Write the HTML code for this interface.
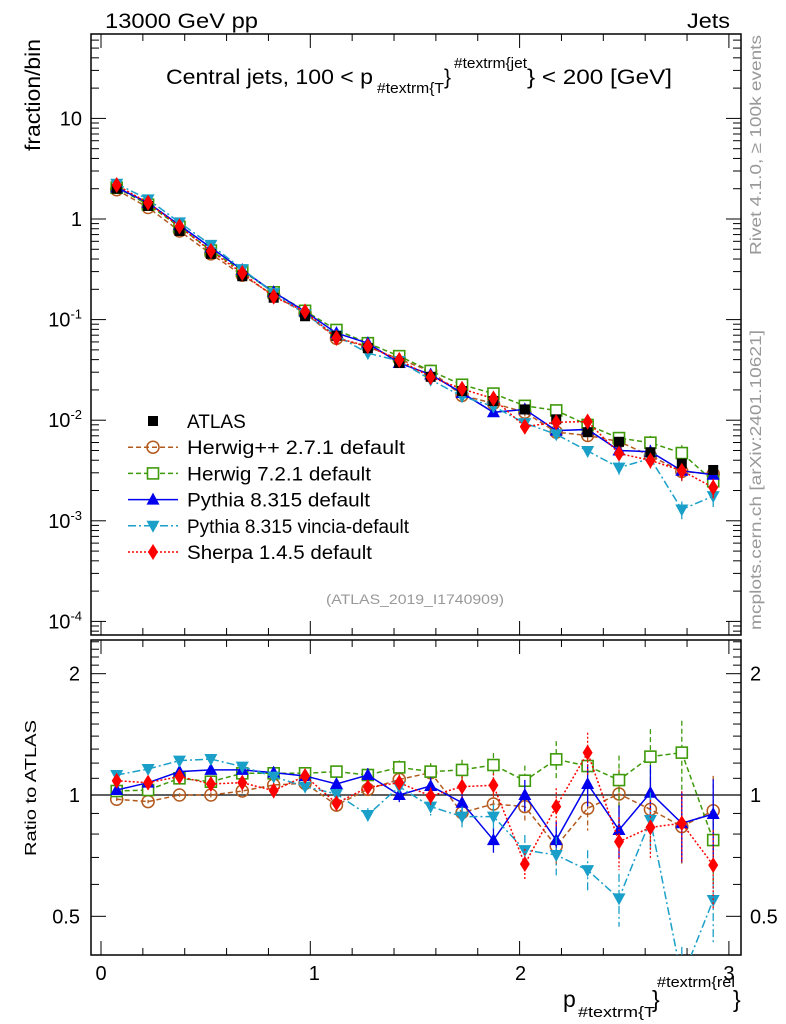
<!DOCTYPE html>
<html><head><meta charset="utf-8"><style>
body{margin:0;background:#fff;}
svg{display:block;font-family:"Liberation Sans",Arial,sans-serif;}
</style></head><body>
<svg id="c" width="786" height="1024" viewBox="0 0 786 1024" xmlns="http://www.w3.org/2000/svg">
<rect x="0" y="0" width="786" height="1024" fill="#fff"/>
<g id="main"></g>
<g id="ratio"></g>
<text x="105" y="28" font-size="21" textLength="153" lengthAdjust="spacingAndGlyphs">13000 GeV pp</text>
<text x="687" y="28" font-size="21" textLength="43" lengthAdjust="spacingAndGlyphs">Jets</text>
<text x="166" y="84" font-size="21"><tspan textLength="207" lengthAdjust="spacingAndGlyphs">Central jets, 100 &lt; p</tspan><tspan x="377" font-size="15" dy="9" textLength="67" lengthAdjust="spacingAndGlyphs">#textrm{T</tspan><tspan x="444" dy="-9">}</tspan><tspan x="454" font-size="15" dy="-16" textLength="73" lengthAdjust="spacingAndGlyphs">#textrm{jet</tspan><tspan x="527" dy="16" textLength="145" lengthAdjust="spacingAndGlyphs">} &lt; 200 [GeV]</tspan></text>
<text transform="translate(40,151) rotate(-90)" font-size="21" textLength="112" lengthAdjust="spacingAndGlyphs">fraction/bin</text>
<text transform="translate(36,856) rotate(-90)" font-size="16" textLength="136" lengthAdjust="spacingAndGlyphs">Ratio to ATLAS</text>
<text transform="translate(761,255) rotate(-90)" font-size="16" fill="#999" textLength="220" lengthAdjust="spacingAndGlyphs">Rivet 4.1.0, ≥ 100k events</text>
<text transform="translate(761,630) rotate(-90)" font-size="16" fill="#999" textLength="300" lengthAdjust="spacingAndGlyphs">mcplots.cern.ch [arXiv:2401.10621]</text>
<text x="326" y="604" font-size="14" fill="#999" textLength="178" lengthAdjust="spacingAndGlyphs">(ATLAS_2019_I1740909)</text>
<text x="563" y="1007" font-size="23">p<tspan x="578" font-size="15" dy="10" textLength="77" lengthAdjust="spacingAndGlyphs">#textrm{T</tspan><tspan x="652" dy="-10">}</tspan><tspan x="657" font-size="15" dy="-20" textLength="78" lengthAdjust="spacingAndGlyphs">#textrm{rel</tspan><tspan x="733" dy="20">}</tspan></text>
</svg>
<script>
const xCenters=[0.075,0.225,0.375,0.525,0.675,0.825,0.975,1.125,1.275,1.425,1.575,1.725,1.875,2.025,2.175,2.325,2.475,2.625,2.775,2.925];
const atlas=[2.0,1.35,0.76,0.45,0.27,0.165,0.108,0.069,0.052,0.037,0.027,0.0195,0.0155,0.0128,0.0102,0.0076,0.0061,0.0048,0.0037,0.0032];
const rHerwigpp=[0.976,0.963,1,1,1.023,1.059,1.069,0.944,1.033,1.093,1.136,0.904,0.95,0.936,0.747,0.927,1.006,0.921,0.835,0.914];
const rHerwig7=[1.023,1.029,1.100,1.079,1.132,1.132,1.132,1.143,1.121,1.171,1.143,1.154,1.187,1.085,1.226,1.180,1.089,1.245,1.274,0.773];
const rPythia=[1.029,1.073,1.143,1.154,1.154,1.136,1.115,1.065,1.121,1,1.053,0.957,0.773,1,0.773,1.065,0.819,1.013,0.851,0.897];
const rVincia=[1.121,1.160,1.217,1.228,1.176,1.111,1.049,1.006,0.892,1.049,0.936,0.884,0.884,0.730,0.710,0.651,0.554,0.867,0.35,0.549];
const rSherpa=[1.085,1.073,1.111,1.065,1.073,1.025,1.115,0.954,1.045,1.073,0.994,1.049,1.057,0.674,0.936,1.274,0.766,0.831,0.851,0.67];
const relErr=[0.01,0.01,0.01,0.015,0.015,0.02,0.02,0.03,0.04,0.04,0.05,0.06,0.07,0.09,0.11,0.12,0.15,0.17,0.2,0.22];
const mainTicks=["10^{-4}","10^{-3}","10^{-2}","10^{-1}","1","10"];
const ratioTickLabels=["0.5","1","2"];
const xTickLabels=["0","1","2","3"];

const NS="http://www.w3.org/2000/svg";
const L=91,R=741,MT=34,MB=635,RT=640,RB=955;
const xs=v=>101+v*209.3;
const ym=v=>219-100.6*Math.log10(v);
const yr=v=>795-403*Math.log10(v);
function el(p,t,a){const e=document.createElementNS(NS,t);for(const k in a)e.setAttribute(k,a[k]);p.appendChild(e);return e;}
const main=document.getElementById('main'),ratio=document.getElementById('ratio');

function frame(g,top,bot,nm){
  const f=el(g,'rect',{x:L,y:top,width:R-L,height:bot-top,fill:'none',stroke:'#000','stroke-width':1.5});
  
  
  for(let v=0;v<=3.0001;v+=0.2){const X=xs(v);const maj=Math.abs(v-Math.round(v))<1e-6;const len=maj?14:7;
    el(g,'line',{x1:X,x2:X,y1:bot,y2:bot-len,stroke:'#000'});el(g,'line',{x1:X,x2:X,y1:top,y2:top+len,stroke:'#000'});}
}
frame(main,MT,MB,'main-frame');frame(ratio,RT,RB,'ratio-frame');
for(let d=-5;d<=1;d++){for(let m=1;m<10;m++){const v=m*Math.pow(10,d);const Y=ym(v);if(Y<MT||Y>MB)continue;const len=m==1?15:8;
  el(main,'line',{x1:L,x2:L+len,y1:Y,y2:Y,stroke:'#000'});el(main,'line',{x1:R,x2:R-len,y1:Y,y2:Y,stroke:'#000'});}}
mainTicks.forEach((t,i)=>{const Y=ym(Math.pow(10,i-4));const tx=el(main,'text',{x:82,y:Y+7,'font-size':20,'text-anchor':'end'});
  
  const m=t.match(/\^\{(.*)\}/);if(m){tx.textContent='10';const s=el(tx,'tspan',{'font-size':13,dy:-8});s.textContent=m[1];}else tx.textContent=t;});
for(let v=0.4;v<2.45;v+=0.1){const Y=yr(v);if(Y<RT||Y>RB)continue;const maj=[0.5,1,2].some(q=>Math.abs(q-v)<1e-6);const len=maj?15:8;
  el(ratio,'line',{x1:L,x2:L+len,y1:Y,y2:Y,stroke:'#000'});el(ratio,'line',{x1:R,x2:R-len,y1:Y,y2:Y,stroke:'#000'});}
ratioTickLabels.forEach(t=>{const Y=yr(parseFloat(t))+7;
  const a=el(ratio,'text',{x:80,y:Y,'font-size':20,'text-anchor':'end'});a.textContent=t;
  
  const b=el(ratio,'text',{x:750,y:Y,'font-size':20});b.textContent=t;
  });
xTickLabels.forEach((t,i)=>{const a=el(ratio,'text',{x:xs(+t)+[0,4,1,0][i],y:980,'font-size':20,'text-anchor':'middle'});a.textContent=t;
  });
el(ratio,'line',{x1:L,x2:R,y1:yr(1),y2:yr(1),stroke:'#000','stroke-width':1.3});

function marker(g,type,x,y,c){
  if(type=='sq')return el(g,'rect',{x:x-5,y:y-5,width:10,height:10,fill:'#000'});
  if(type=='osq')return el(g,'rect',{x:x-5.5,y:y-5.5,width:11,height:11,fill:'#fff',stroke:c,'stroke-width':1.6});
  if(type=='oc')return el(g,'circle',{cx:x,cy:y,r:6,fill:'none',stroke:c,'stroke-width':1.5});
  if(type=='tu')return el(g,'polygon',{points:`${x},${y-7} ${x-6.5},${y+5} ${x+6.5},${y+5}`,fill:c});
  if(type=='td')return el(g,'polygon',{points:`${x},${y+7} ${x-6.5},${y-5} ${x+6.5},${y-5}`,fill:c});
  if(type=='dm')return el(g,'polygon',{points:`${x},${y-8} ${x-5},${y} ${x},${y+8} ${x+5},${y}`,fill:c});
}
const series=[
 {name:'herwigpp',label:'Herwig++ 2.7.1 default',r:rHerwigpp,c:'#b35a1f',m:'oc',dash:'5,3'},
 {name:'herwig7',label:'Herwig 7.2.1 default',r:rHerwig7,c:'#3f9a0a',m:'osq',dash:'5,3'},
 {name:'pythia',label:'Pythia 8.315 default',r:rPythia,c:'#0000ee',m:'tu',dash:''},
 {name:'vincia',label:'Pythia 8.315 vincia-default',r:rVincia,c:'#1aa0c8',m:'td',dash:'8,3,2,3'},
 {name:'sherpa',label:'Sherpa 1.4.5 default',r:rSherpa,c:'#ff0000',m:'dm',dash:'2,2'}];
function clipRect(g,id,top,bot){const cp=el(g,'clipPath',{id:id});el(cp,'rect',{x:L,y:top,width:R-L,height:bot-top});}
clipRect(main,'cm',MT,MB);clipRect(ratio,'cr',RT,RB);
const gm=el(main,'g',{'clip-path':'url(#cm)'}),gr=el(ratio,'g',{'clip-path':'url(#cr)'});
series.forEach(s=>{
  const vals=atlas.map((a,i)=>a*s.r[i]);
  const pm=vals.map((v,i)=>`${xs(xCenters[i])},${ym(v)}`).join(' ');
  const pl=el(gm,'polyline',{points:pm,fill:'none',stroke:s.c,'stroke-width':1.5,'stroke-dasharray':s.dash});
  
  const pr=s.r.map((v,i)=>`${xs(xCenters[i])},${yr(v)}`).join(' ');
  const rl=el(gr,'polyline',{points:pr,fill:'none',stroke:s.c,'stroke-width':1.5,'stroke-dasharray':s.dash});
  
  s.r.forEach((v,i)=>{const X=xs(xCenters[i]);const e=relErr[i]*v;
    el(gr,'line',{x1:X,x2:X,y1:yr(v+e),y2:yr(Math.max(v-e,0.05)),stroke:s.c,'stroke-width':1.3,'stroke-dasharray':s.dash});
    el(gm,'line',{x1:X,x2:X,y1:ym(vals[i]*(1+relErr[i])),y2:ym(vals[i]*(1-relErr[i])),stroke:s.c,'stroke-width':1.3});
    const a=marker(gm,s.m,X,ym(vals[i]),s.c);
    const b=marker(gr,s.m,X,yr(v),s.c);});
});
atlas.forEach((v,i)=>{const a=marker(gm,'sq',xs(xCenters[i]),ym(v),'#000');
  });
atlas.forEach((a,i)=>{const m=marker(gm,'dm',xs(xCenters[i]),ym(a*rSherpa[i]),'#ff0000');
  
  });
const lg=el(main,'g',{});

const ly0=421,ldy=26.2;
marker(lg,'sq',153,ly0,'#000');
const t0=el(lg,'text',{x:187,y:ly0+7,'font-size':19});t0.textContent='ATLAS';

const lw=[218,184,183,222,185];
series.forEach((s,k)=>{const Y=ly0+ldy*(k+1);
  el(lg,'line',{x1:128,x2:178,y1:Y,y2:Y,stroke:s.c,'stroke-width':1.5,'stroke-dasharray':s.dash});
  marker(lg,s.m,153,Y,s.c);
  const t=el(lg,'text',{x:187,y:Y+7,'font-size':19,textLength:lw[k],lengthAdjust:'spacingAndGlyphs'});t.textContent=s.label;
  });
</script>
</body></html>
